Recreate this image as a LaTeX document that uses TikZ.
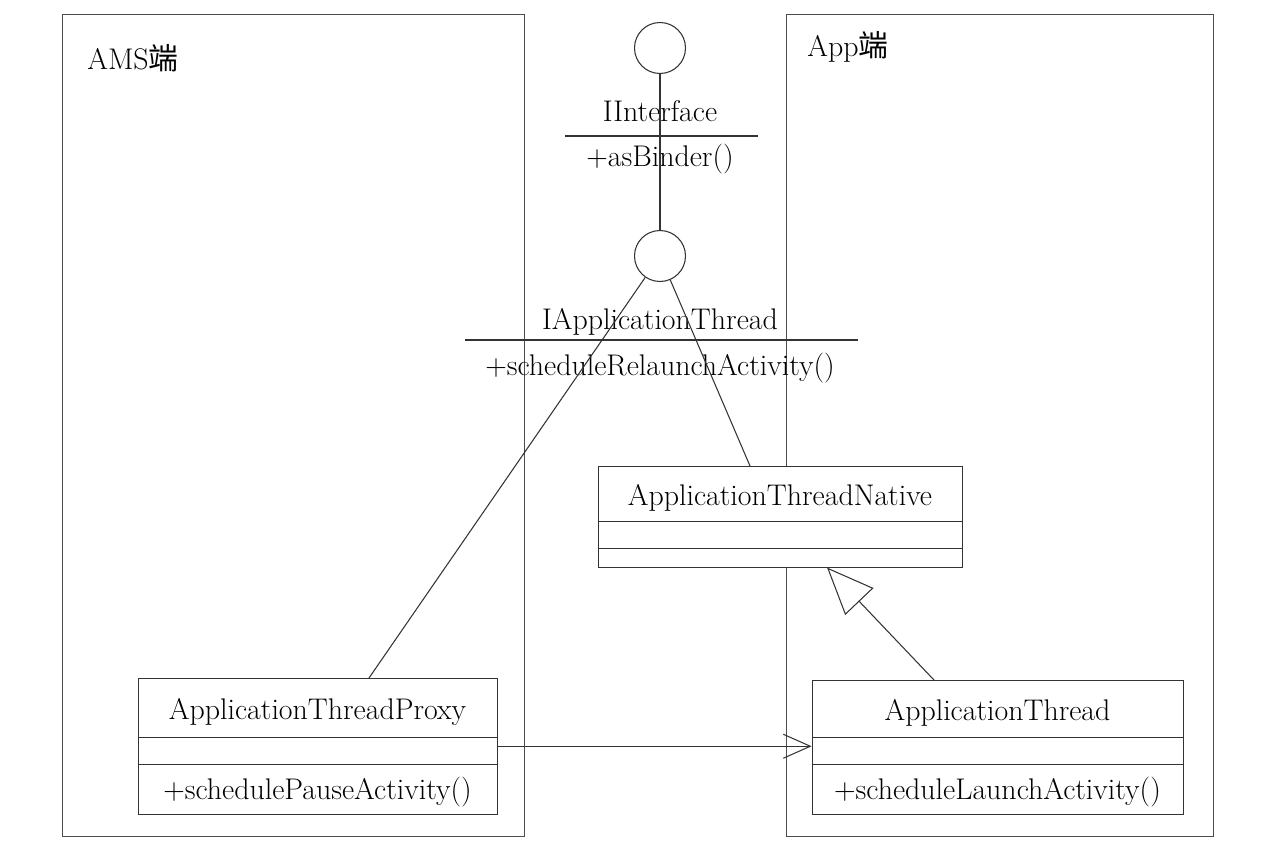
\documentclass[tikz,border=0pt]{standalone}
\usepackage{fontspec}
\newfontfamily\cjk{Noto Sans CJK SC}
\usetikzlibrary{shapes.multipart,arrows.meta,calc}

\newcommand{\pstrut}[2]{\rule[-#2]{0pt}{\dimexpr#1+#2\relax}}
\newcommand{\umlfont}{\fontsize{17}{20}\selectfont}

\tikzset{
  frame/.style={draw=black!70, line width=0.5pt},
  umlclass/.style={draw=black!80, fill=white, line width=0.5pt, rectangle split,
    rectangle split parts=3, inner sep=0pt, anchor=north, font=\umlfont},
  lollipop/.style={draw=black!80, circle, line width=0.6pt, minimum size=1.02cm, inner sep=0pt},
  label/.style={anchor=base, inner sep=0pt, font=\umlfont},
  link/.style={draw=black!80, line width=0.6pt},
}

\begin{document}
\begin{tikzpicture}[x=0.02cm, y=-0.02cm]
    \useasboundingbox (0,0) rectangle (1275,852);

    % Frames
    \draw[frame] (62,14) rectangle (524,836);
    \draw[frame] (786,14) rectangle (1213,836);
    \node[label, anchor=base west] (ams) at (87,69) {AMS{\cjk 端}};
    \node[label, anchor=base west] (app) at (807,56) {App{\cjk 端}};

    % Interfaces
    \node[lollipop] (iface) at (660,48) {};
    \node[label] (ifacename) at (660,121) {IInterface};
    \draw[link] (565,136) -- (758,136);
    \node[label] (ifaceop) at (660,166) {+asBinder()};

    \node[lollipop] (ithread) at (660,256) {};
    \node[label] (ithreadname) at (660,329) {IApplicationThread};
    \draw[link] (465,340) -- (858,340);
    \node[label] (ithreadop) at (660,375) {+scheduleRelaunchActivity()};

    % Classes
    \node[umlclass, minimum width=7.28cm] (atn) at (780,466)
      {\pstrut{0.78cm}{0.30cm}ApplicationThreadNative
       \nodepart{second}\pstrut{0.52cm}{0cm}
       \nodepart{third}\pstrut{0.36cm}{0cm}};
    \node[umlclass, minimum width=7.18cm] (atp) at (317.5,678)
      {\pstrut{0.82cm}{0.34cm}ApplicationThreadProxy
       \nodepart{second}\pstrut{0.52cm}{0cm}
       \nodepart{third}\pstrut{0.70cm}{0.28cm}+schedulePauseActivity()};
    \node[umlclass, minimum width=7.42cm] (at) at (997.5,680)
      {\pstrut{0.80cm}{0.32cm}ApplicationThread
       \nodepart{second}\pstrut{0.52cm}{0cm}
       \nodepart{third}\pstrut{0.70cm}{0.28cm}+scheduleLaunchActivity()};

    % Connectors
    \draw[link] (iface) -- (ithread);
    \draw[link] (ithread) -- ($(atp.north)+(51.5,0)$);
    \draw[link] (ithread) -- ($(atn.north)+(-30,0)$);
    \draw[link, -{Triangle[open, length=0.94cm, width=0.78cm]}] ($(at.north)+(-63.5,0)$) -- ($(atn.south)+(47,0)$);
    \draw[link, -{Straight Barb[length=0.54cm, width=0.48cm]}] (atp.east) -- (atp.east -| at.west);
  \end{tikzpicture}
\end{document}
